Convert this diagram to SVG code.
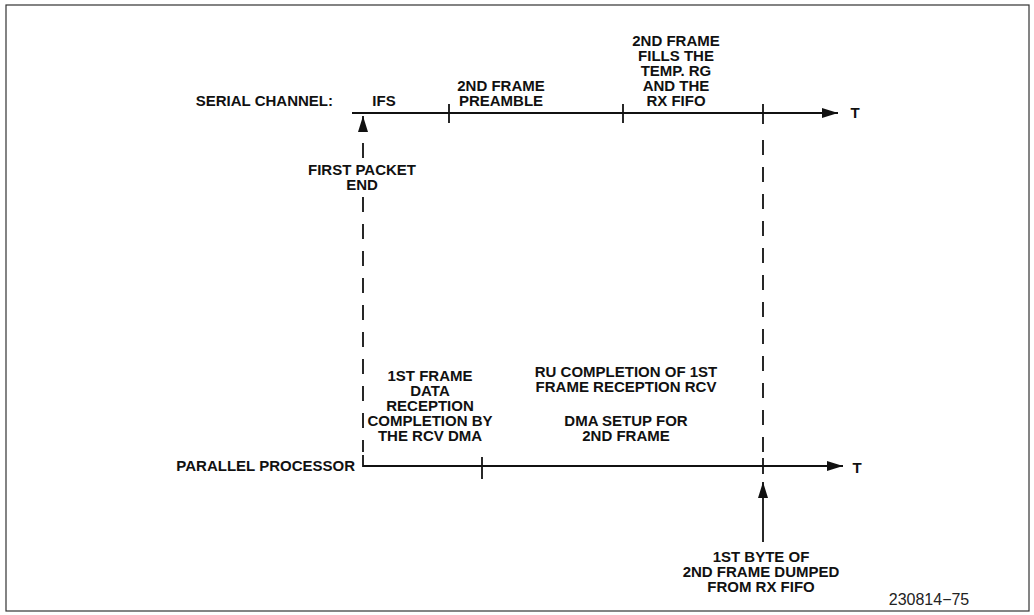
<svg xmlns="http://www.w3.org/2000/svg" width="1034" height="615" viewBox="0 0 1034 615">
<defs>
<marker id="ah" viewBox="0 0 16 10" refX="16" refY="5" markerWidth="16" markerHeight="10" markerUnits="userSpaceOnUse" orient="auto">
<path d="M0,0 L16,5 L0,10 Z" fill="#111"/>
</marker>
<style>
.lbl{font-family:"Liberation Sans",Arial,sans-serif;font-weight:bold;font-size:15px;fill:#111;text-anchor:middle}
.lft{text-anchor:end}
.num{font-family:"Liberation Sans",Arial,sans-serif;font-size:16px;fill:#222;text-anchor:middle}
.ax{stroke:#111;stroke-width:1.8;fill:none}
.dash{stroke:#111;stroke-width:1.8;fill:none;stroke-dasharray:15 12}
</style>
</defs>
<rect x="6" y="5" width="1023" height="606" fill="#fff" stroke="#333" stroke-width="1.2"/>

<g id="connectors">
<line class="ax" x1="352" y1="113" x2="838" y2="113" marker-end="url(#ah)"/>
<line class="ax" x1="449" y1="104" x2="449" y2="123"/>
<line class="ax" x1="623" y1="104" x2="623" y2="123"/>
<line class="ax" x1="763" y1="104" x2="763" y2="124"/>
<line class="ax" x1="363" y1="131" x2="363" y2="116" marker-end="url(#ah)"/>
<line class="dash" x1="363" y1="143" x2="363" y2="158"/>
<line class="dash" x1="363" y1="197" x2="363" y2="452"/>
<path class="ax" d="M363,455 L363,466 L843,466" marker-end="url(#ah)"/>
<line class="ax" x1="482" y1="457" x2="482" y2="479"/>
<line class="dash" x1="763" y1="140" x2="763" y2="455"/>
<line class="ax" x1="763" y1="458" x2="763" y2="474"/>
<line class="ax" x1="763" y1="542" x2="763" y2="482" marker-end="url(#ah)"/>
</g>

<g id="serial-channel">
<text class="lbl lft" x="333" y="106">SERIAL CHANNEL:</text>
<text class="lbl" x="855" y="118">T</text>
</g>
<g id="ifs"><text class="lbl" x="384" y="106">IFS</text></g>
<g id="preamble">
<text class="lbl" x="501" y="91">2ND FRAME</text>
<text class="lbl" x="501" y="106">PREAMBLE</text>
</g>
<g id="fills">
<text class="lbl" x="676" y="46">2ND FRAME</text>
<text class="lbl" x="676" y="61">FILLS THE</text>
<text class="lbl" x="676" y="76">TEMP. RG</text>
<text class="lbl" x="676" y="91">AND THE</text>
<text class="lbl" x="676" y="106">RX FIFO</text>
</g>
<g id="first-packet-end">
<text class="lbl" x="362" y="175">FIRST PACKET</text>
<text class="lbl" x="362" y="190">END</text>
</g>
<g id="rcv-dma">
<text class="lbl" x="430" y="381">1ST FRAME</text>
<text class="lbl" x="430" y="396">DATA</text>
<text class="lbl" x="430" y="411">RECEPTION</text>
<text class="lbl" x="430" y="426">COMPLETION BY</text>
<text class="lbl" x="430" y="441">THE RCV DMA</text>
</g>
<g id="ru-completion">
<text class="lbl" x="626" y="377">RU COMPLETION OF 1ST</text>
<text class="lbl" x="626" y="392">FRAME RECEPTION RCV</text>
<text class="lbl" x="626" y="426">DMA SETUP FOR</text>
<text class="lbl" x="626" y="441">2ND FRAME</text>
</g>
<g id="parallel-processor">
<text class="lbl lft" x="355" y="471">PARALLEL PROCESSOR</text>
<text class="lbl" x="857" y="473">T</text>
</g>
<g id="first-byte">
<text class="lbl" x="761" y="562">1ST BYTE OF</text>
<text class="lbl" x="761" y="577">2ND FRAME DUMPED</text>
<text class="lbl" x="761" y="592">FROM RX FIFO</text>
</g>
<g id="figure-number"><text class="num" x="929" y="605">230814−75</text></g>
</svg>
